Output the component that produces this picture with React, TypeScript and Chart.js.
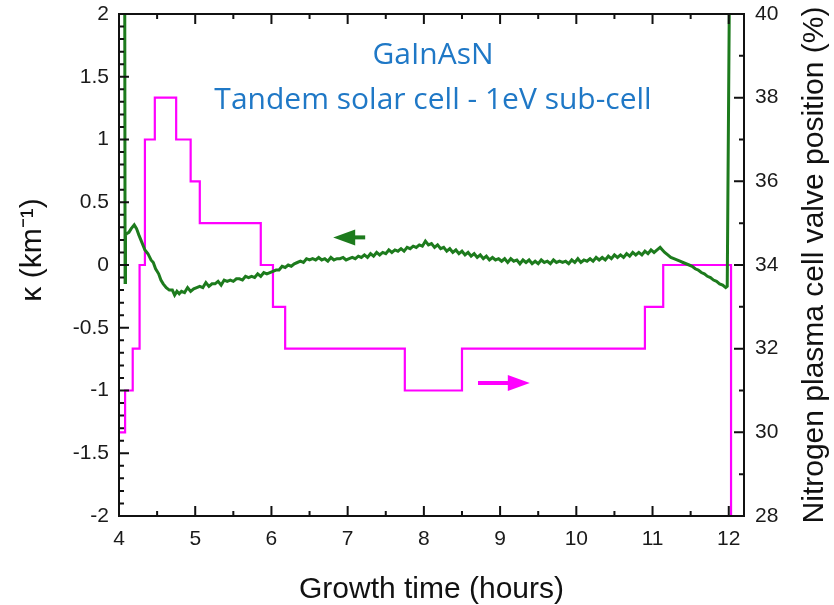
import React, { useEffect, useRef } from "react";
import { Chart, registerables } from "chart.js";

Chart.register(...registerables);

// ---- Data ----
const kappaTime = [
  4.075, 4.08, 4.085, 4.1, 4.13, 4.16, 4.2, 4.23, 4.26, 4.3,
  4.34, 4.38, 4.42, 4.45, 4.48, 4.52, 4.55, 4.58, 4.62, 4.66,
  4.7, 4.73, 4.76, 4.79, 4.82, 4.86, 4.9, 4.94, 4.98, 5.02,
  5.06, 5.1, 5.14, 5.18, 5.22, 5.26, 5.3, 5.34, 5.38, 5.42,
  5.46, 5.5, 5.54, 5.58, 5.62, 5.66, 5.7, 5.74, 5.78, 5.82,
  5.86, 5.9, 5.94, 5.98, 6.02, 6.06, 6.1, 6.14, 6.18, 6.22,
  6.26, 6.3, 6.34, 6.38, 6.42, 6.46, 6.5, 6.54, 6.58, 6.62,
  6.66, 6.7, 6.74, 6.78, 6.82, 6.86, 6.9, 6.94, 6.98, 7.02,
  7.06, 7.1, 7.14, 7.18, 7.22, 7.26, 7.3, 7.34, 7.38, 7.42,
  7.46, 7.5, 7.54, 7.58, 7.62, 7.66, 7.7, 7.74, 7.78, 7.82,
  7.86, 7.9, 7.94, 7.98, 8.02, 8.06, 8.1, 8.14, 8.18, 8.22,
  8.26, 8.3, 8.34, 8.38, 8.42, 8.46, 8.5, 8.54, 8.58, 8.62,
  8.66, 8.7, 8.74, 8.78, 8.82, 8.86, 8.9, 8.94, 8.98, 9.02,
  9.06, 9.1, 9.14, 9.18, 9.22, 9.26, 9.3, 9.34, 9.38, 9.42,
  9.46, 9.5, 9.54, 9.58, 9.62, 9.66, 9.7, 9.74, 9.78, 9.82,
  9.86, 9.9, 9.94, 9.98, 10.02, 10.06, 10.1, 10.14, 10.18, 10.22,
  10.26, 10.3, 10.34, 10.38, 10.42, 10.46, 10.5, 10.54, 10.58, 10.62,
  10.66, 10.7, 10.74, 10.78, 10.82, 10.86, 10.9, 10.94, 10.98, 11.02,
  11.06, 11.1, 11.13, 11.16, 11.2, 11.24, 11.28, 11.32, 11.36, 11.4,
  11.44, 11.48, 11.52, 11.56, 11.6, 11.64, 11.68, 11.72, 11.76, 11.8,
  11.84, 11.88, 11.92, 11.96, 11.98, 12.01,
];
const kappaValue = [
  2.3, -0.14, 0.24, 0.25, 0.26, 0.29, 0.32, 0.29, 0.24, 0.18,
  0.12, 0.09, 0.04, 0.02, -0.03, -0.07, -0.12, -0.15, -0.18, -0.2,
  -0.2, -0.24, -0.21, -0.23, -0.21, -0.22, -0.18, -0.21, -0.19, -0.18,
  -0.17, -0.18, -0.14, -0.17, -0.15, -0.15, -0.13, -0.16, -0.12, -0.13,
  -0.12, -0.13, -0.11, -0.11, -0.12, -0.09, -0.1, -0.09, -0.1, -0.07,
  -0.09, -0.06, -0.07, -0.06, -0.05, -0.04, -0.04, -0.01, -0.02, 0.0,
  -0.01, 0.01, 0.02, 0.03, 0.02, 0.05, 0.04, 0.05, 0.04, 0.06,
  0.04, 0.05, 0.03, 0.06, 0.04, 0.05, 0.05, 0.06, 0.04, 0.05,
  0.06, 0.05, 0.07, 0.06, 0.08, 0.06, 0.09, 0.07, 0.1, 0.08,
  0.1, 0.09, 0.12, 0.1, 0.12, 0.11, 0.13, 0.11, 0.14, 0.13,
  0.15, 0.14, 0.16, 0.15, 0.19, 0.16, 0.17, 0.14, 0.16, 0.13,
  0.14, 0.11, 0.13, 0.1, 0.12, 0.09, 0.11, 0.08, 0.1, 0.07,
  0.09, 0.06, 0.08, 0.05, 0.07, 0.04, 0.06, 0.04, 0.05, 0.03,
  0.05, 0.02, 0.05, 0.03, 0.04, 0.01, 0.04, 0.02, 0.04, 0.01,
  0.03, 0.01, 0.04, 0.02, 0.03, 0.01, 0.04, 0.02, 0.03, 0.02,
  0.03, 0.01, 0.04, 0.02, 0.05, 0.02, 0.04, 0.03, 0.05, 0.03,
  0.06, 0.04, 0.06, 0.04, 0.07, 0.05, 0.08, 0.06, 0.08, 0.06,
  0.09, 0.07, 0.1, 0.08, 0.1, 0.08, 0.11, 0.09, 0.12, 0.1,
  0.12, 0.14, 0.12, 0.1, 0.08, 0.06, 0.05, 0.04, 0.03, 0.02,
  0.01, 0.0, -0.01, -0.03, -0.04, -0.06, -0.07, -0.09, -0.1, -0.12,
  -0.13, -0.15, -0.16, -0.18, -0.17, 2.3,
];

const valveTime = [4.0, 4.08, 4.18, 4.27, 4.34, 4.47, 4.75, 4.94, 5.06, 5.86, 6.02, 6.18, 7.75, 8.5, 10.9, 11.14, 12.03];
const valvePercent = [30, 31, 32, 34, 37, 38, 37, 36, 35, 34, 33, 32, 31, 32, 33, 34, 28];

const timeTicks = [4, 5, 6, 7, 8, 9, 10, 11, 12];
const kappaTicks = [-2, -1.5, -1, -0.5, 0, 0.5, 1, 1.5, 2];
const valveTicks = [28, 30, 32, 34, 36, 38, 40];

const xTitle = "Growth time (hours)";
const yLeftTitle = "κ (km⁻¹)";
const yRightTitle = "Nitrogen plasma cell valve position (%)";
const noteLines = ["GaInAsN", "Tandem solar cell - 1eV sub-cell"];

// arrows: [tailX, tipX, y]
const greenArrow = [7.23, 6.81, 0.22]; // left axis
const magentaArrow = [8.71, 9.39, 31.18]; // right axis

const GREEN = "#1d7b1d";
const MAGENTA = "#ff00ff";
const BLUE = "#1f78c6";
const TICK_FONT = '21px "Liberation Sans", Arial, sans-serif';
const TITLE_FONT = '30px "Liberation Sans", Arial, sans-serif';

function drawArrow(ctx: CanvasRenderingContext2D, x0: number, x1: number, y: number, color: string) {
  const dir = x1 > x0 ? 1 : -1;
  const headLen = 22;
  const headHalf = 8;
  ctx.save();
  ctx.strokeStyle = color;
  ctx.fillStyle = color;
  ctx.lineWidth = 4;
  ctx.beginPath();
  ctx.moveTo(x0, y);
  ctx.lineTo(x1 - dir * headLen * 0.8, y);
  ctx.stroke();
  ctx.beginPath();
  ctx.moveTo(x1, y);
  ctx.lineTo(x1 - dir * headLen, y - headHalf);
  ctx.lineTo(x1 - dir * headLen, y + headHalf);
  ctx.closePath();
  ctx.fill();
  ctx.restore();
}

const decorPlugin = {
  id: "decor",
  afterDraw(chart: any) {
    const { ctx, chartArea: a, scales } = chart;
    const xs = scales.x;
    const yl = scales.y;
    const yr = scales.y2;
    ctx.save();

    drawArrow(ctx, xs.getPixelForValue(greenArrow[0]), xs.getPixelForValue(greenArrow[1]), yl.getPixelForValue(greenArrow[2]), GREEN);
    drawArrow(ctx, xs.getPixelForValue(magentaArrow[0]), xs.getPixelForValue(magentaArrow[1]), yr.getPixelForValue(magentaArrow[2]), MAGENTA);

    ctx.strokeStyle = "#111";
    ctx.lineWidth = 2;
    ctx.strokeRect(a.left, a.top, a.right - a.left, a.bottom - a.top);

    ctx.beginPath();
    const MAJ = 10;
    const MIN = 5;
    for (let i = 0; i <= 16; i++) {
      const v = 4 + i * 0.5;
      const px = xs.getPixelForValue(v);
      const len = i % 2 === 0 ? MAJ : MIN;
      ctx.moveTo(px, a.bottom);
      ctx.lineTo(px, a.bottom - len);
      ctx.moveTo(px, a.top);
      ctx.lineTo(px, a.top + len);
    }
    for (let i = 0; i <= 40; i++) {
      const v = -2 + i * 0.1;
      const py = yl.getPixelForValue(v);
      const len = i % 5 === 0 ? MAJ : MIN;
      ctx.moveTo(a.left, py);
      ctx.lineTo(a.left + len, py);
    }
    for (let i = 0; i <= 12; i++) {
      const v = 28 + i;
      const py = yr.getPixelForValue(v);
      const len = i % 2 === 0 ? MAJ : MIN;
      ctx.moveTo(a.right, py);
      ctx.lineTo(a.right - len, py);
    }
    ctx.stroke();

    ctx.fillStyle = "#1a1a1a";
    ctx.font = TICK_FONT;
    ctx.textBaseline = "middle";
    ctx.textAlign = "center";
    for (const t of timeTicks) {
      ctx.fillText(String(t), xs.getPixelForValue(t), a.bottom + 23);
    }
    ctx.textAlign = "right";
    for (const t of kappaTicks) {
      ctx.fillText(String(t), a.left - 10, yl.getPixelForValue(t));
    }
    ctx.textAlign = "left";
    for (const t of valveTicks) {
      ctx.fillText(String(t), a.right + 11, yr.getPixelForValue(t));
    }

    ctx.fillStyle = "#111";
    ctx.font = TITLE_FONT;
    ctx.textAlign = "center";
    ctx.fillText(xTitle, (a.left + a.right) / 2, 590);

    ctx.save();
    ctx.translate(33, 250);
    ctx.rotate(-Math.PI / 2);
    ctx.fillText(yLeftTitle, 0, 0);
    ctx.restore();

    ctx.save();
    ctx.translate(815, 265);
    ctx.rotate(-Math.PI / 2);
    ctx.fillText(yRightTitle, 0, 0);
    ctx.restore();

    ctx.fillStyle = BLUE;
    ctx.font = '30px "Open Sans", "Noto Sans", sans-serif';
    ctx.textAlign = "center";
    const cx = xs.getPixelForValue(8.12);
    ctx.fillText(noteLines[0], cx, yl.getPixelForValue(1.67));
    ctx.fillText(noteLines[1], cx, yl.getPixelForValue(1.31));

    ctx.restore();
  },
};

export default function App() {
  const ref = useRef<HTMLCanvasElement | null>(null);

  useEffect(() => {
    document.body.style.margin = "0";
    const canvas = ref.current;
    if (!canvas) return;
    const kappaPts = kappaTime.map((t, i) => ({ x: t, y: kappaValue[i] }));
    const valvePts = valveTime.map((t, i) => ({ x: t, y: valvePercent[i] }));

    const hidden = {
      grid: { display: false, drawTicks: false },
      border: { display: false },
      ticks: { display: false },
    };

    const chart = new Chart(canvas, {
      type: "line",
      data: {
        datasets: [
          {
            label: "kappa",
            data: kappaPts,
            borderColor: GREEN,
            borderWidth: 3,
            pointRadius: 0,
            yAxisID: "y",
            tension: 0,
          },
          {
            label: "valve",
            data: valvePts,
            borderColor: MAGENTA,
            borderWidth: 2.2,
            pointRadius: 0,
            stepped: "before",
            yAxisID: "y2",
          },
        ],
      },
      plugins: [decorPlugin],
      options: {
        animation: false,
        responsive: false,
        maintainAspectRatio: false,
        layout: { padding: { top: 14, left: 0, right: 0, bottom: 0 } },
        plugins: { legend: { display: false }, tooltip: { enabled: false } },
        scales: {
          x: {
            type: "linear",
            min: 4,
            max: 12.2,
            ...hidden,
            afterFit: (s: any) => {
              s.height = 89;
            },
          },
          y: {
            type: "linear",
            position: "left",
            min: -2,
            max: 2,
            ...hidden,
            afterFit: (s: any) => {
              s.width = 119;
            },
          },
          y2: {
            type: "linear",
            position: "right",
            min: 28,
            max: 40,
            ...hidden,
            afterFit: (s: any) => {
              s.width = 90;
            },
          },
        },
      } as any,
    });
    return () => chart.destroy();
  }, []);

  return (
    <div style={{ position: "absolute", left: 0, top: 0, width: 834, height: 605, background: "#fff" }}>
      <canvas ref={ref} width={834} height={605} />
    </div>
  );
}
